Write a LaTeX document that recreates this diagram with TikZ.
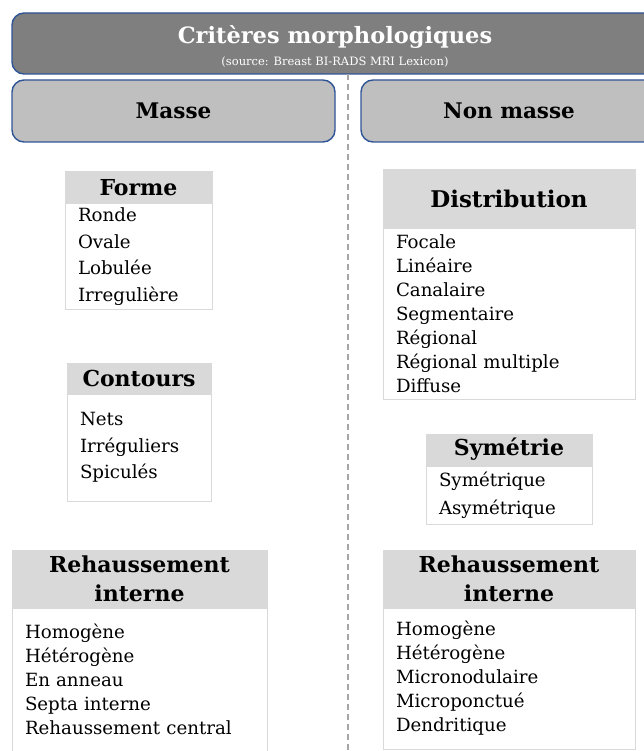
\documentclass[tikz,border=0pt]{standalone}
\usepackage{fontspec}
\setmainfont{DejaVu Serif}
\usetikzlibrary{positioning}
\definecolor{bandgray}{HTML}{7F7F7F}
\definecolor{catgray}{HTML}{BFBFBF}
\definecolor{headgray}{HTML}{D9D9D9}
\definecolor{edgeblue}{HTML}{2F5597}
\definecolor{divgray}{HTML}{A6A6A6}
\tikzset{
  catbox/.style={draw=edgeblue, line width=1.4pt, rounded corners=12pt, inner sep=0pt,
    font=\bfseries\fontsize{21.5}{26}\selectfont},
  headbox/.style={fill=headgray, draw=headgray, line width=1pt, inner sep=0pt, align=center,
    font=\bfseries\fontsize{22}{29}\selectfont},
  listbox/.style={draw=headgray, line width=1pt, fill=white, anchor=north, align=left,
    inner xsep=13pt, inner ysep=0pt, font=\fontsize{18.2}{24}\selectfont},
}
\begin{document}
\begin{tikzpicture}[x=1pt,y=-1pt]
  \useasboundingbox (0,0) rectangle (644,751);
  \clip (0,0) rectangle (644,751);
  %% banner
  \node[catbox, fill=bandgray, minimum width=646pt, minimum height=61pt] (crit) at (335,43.5) {};
  \node[text=white, font=\bfseries\fontsize{22.5}{26}\selectfont] (crittitle) at (335,37) {Critères morphologiques};
  \node[text=white, font=\fontsize{11.5}{13}\selectfont] (critsource) at (335,62) {(source: Breast BI-RADS MRI Lexicon)};
  %% categories
  \node[catbox, fill=catgray, minimum width=323pt, minimum height=62pt] (masse) at (173.5,111) {Masse};
  \node[catbox, fill=catgray, minimum width=296pt, minimum height=62pt] (nonmasse) at (509,111) {Non masse};
  %% divider
  \coordinate (divtop) at (348,74);
  \coordinate (divbot) at (348,751);
  \draw[divgray, dash pattern=on 6pt off 4pt, line width=1.2pt] (divtop) -- (divbot);
  %% masse
  \node[headbox, minimum width=147pt, minimum height=31pt] (forme) at (138.5,187.5) {Forme};
  \node[listbox, text width=121pt, minimum height=105pt, font=\fontsize{18.2}{26.5}\selectfont]
    (formelist) at (forme.south) {Ronde\\Ovale\\Lobulée\\Irregulière};
  \node[headbox, minimum width=144pt, minimum height=30pt] (contours) at (139,378) {Contours};
  \node[listbox, text width=118pt, minimum height=107pt, font=\fontsize{18.2}{26.5}\selectfont]
    (contourslist) at (contours.south) {Nets\\Irréguliers\\Spiculés};
  \node[headbox, minimum width=255pt, minimum height=57pt] (rehausmasse) at (139.5,578.5) {Rehaussement\\interne};
  \node[listbox, text width=229pt, minimum height=143pt]
    (rehausmasselist) at (rehausmasse.south)
    {Homogène\\Hétérogène\\En anneau\\Septa interne\\Rehaussement central};
  %% non masse
  \node[headbox, minimum width=252pt, minimum height=57pt, font=\bfseries\fontsize{23}{29}\selectfont]
    (distrib) at (509,198.5) {Distribution};
  \node[listbox, text width=226pt, minimum height=171pt]
    (distriblist) at (distrib.south)
    {Focale\\Linéaire\\Canalaire\\Segmentaire\\Régional\\Régional multiple\\Diffuse};
  \node[headbox, minimum width=166pt, minimum height=31pt] (symetrie) at (509,449.5) {Symétrie};
  \node[listbox, text width=140pt, minimum height=58pt, font=\fontsize{18.2}{28}\selectfont]
    (symetrielist) at (symetrie.south) {Symétrique\\Asymétrique};
  \node[headbox, minimum width=252pt, minimum height=57pt] (rehausnon) at (509,578.5) {Rehaussement\\interne};
  \node[listbox, text width=226pt, minimum height=141pt]
    (rehausnonlist) at (rehausnon.south)
    {Homogène\\Hétérogène\\Micronodulaire\\Microponctué\\Dendritique};
\end{tikzpicture}
\end{document}
